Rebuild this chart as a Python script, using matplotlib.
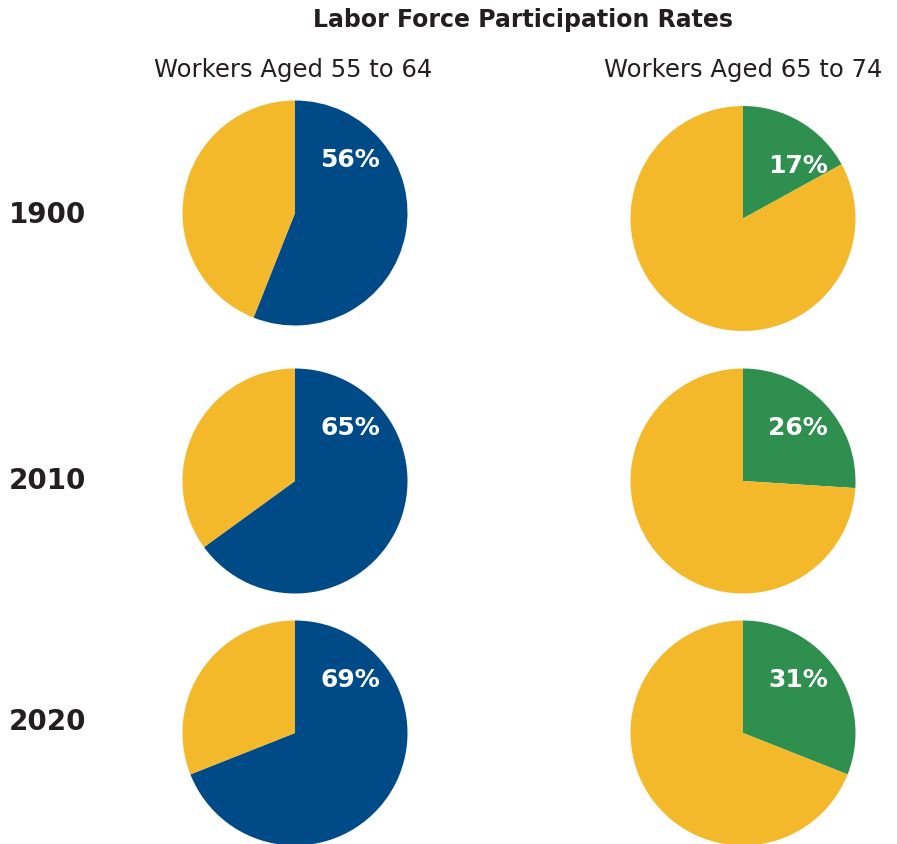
import matplotlib.pyplot as plt

years = ["1900", "2010", "2020"]
groups = ["Workers Aged 55 to 64", "Workers Aged 65 to 74"]
rate_55_64 = [56, 65, 69]
rate_65_74 = [17, 26, 31]

blue = "#004b87"
green = "#2f8f4f"
yellow = "#f3b92a"

W, H = 897, 844
fig = plt.figure(figsize=(W / 100, H / 100), dpi=100)

# pie centres in pixels (x, y from top) and radius
r = 112.5
col_x = [295, 743]
row_y = [[213, 481, 733], [218.5, 481, 733]]

def add_pie(cx, cy, value, color):
    ax = fig.add_axes([(cx - r) / W, 1 - (cy + r) / H, 2 * r / W, 2 * r / H])
    ax.pie([value, 100 - value], colors=[color, yellow], startangle=90,
           counterclock=False, radius=1, wedgeprops=dict(linewidth=0))
    ax.set_xlim(-1, 1)
    ax.set_ylim(-1, 1)
    ax.set_aspect("equal")
    ax.axis("off")
    ax.text(0.49, 0.47, f"{value}%", color="white", fontsize=18,
            fontweight="bold", ha="center", va="center")

for i in range(len(years)):
    add_pie(col_x[0], row_y[0][i], rate_55_64[i], blue)
    add_pie(col_x[1], row_y[1][i], rate_65_74[i], green)

fig.text(523 / W, 1 - 20 / H, "Labor Force Participation Rates",
         fontsize=17, fontweight="bold", color="#231f20", ha="center", va="center")
for x, g in zip([293, 743], groups):
    fig.text(x / W, 1 - 70 / H, g, fontsize=17.5, color="#231f20",
             ha="center", va="center")

for y, yr in zip([215, 481, 722], years):
    fig.text(47 / W, 1 - y / H, yr, fontsize=20, fontweight="bold",
             color="#231f20", ha="center", va="center")

fig.savefig("out.png", dpi=100)
